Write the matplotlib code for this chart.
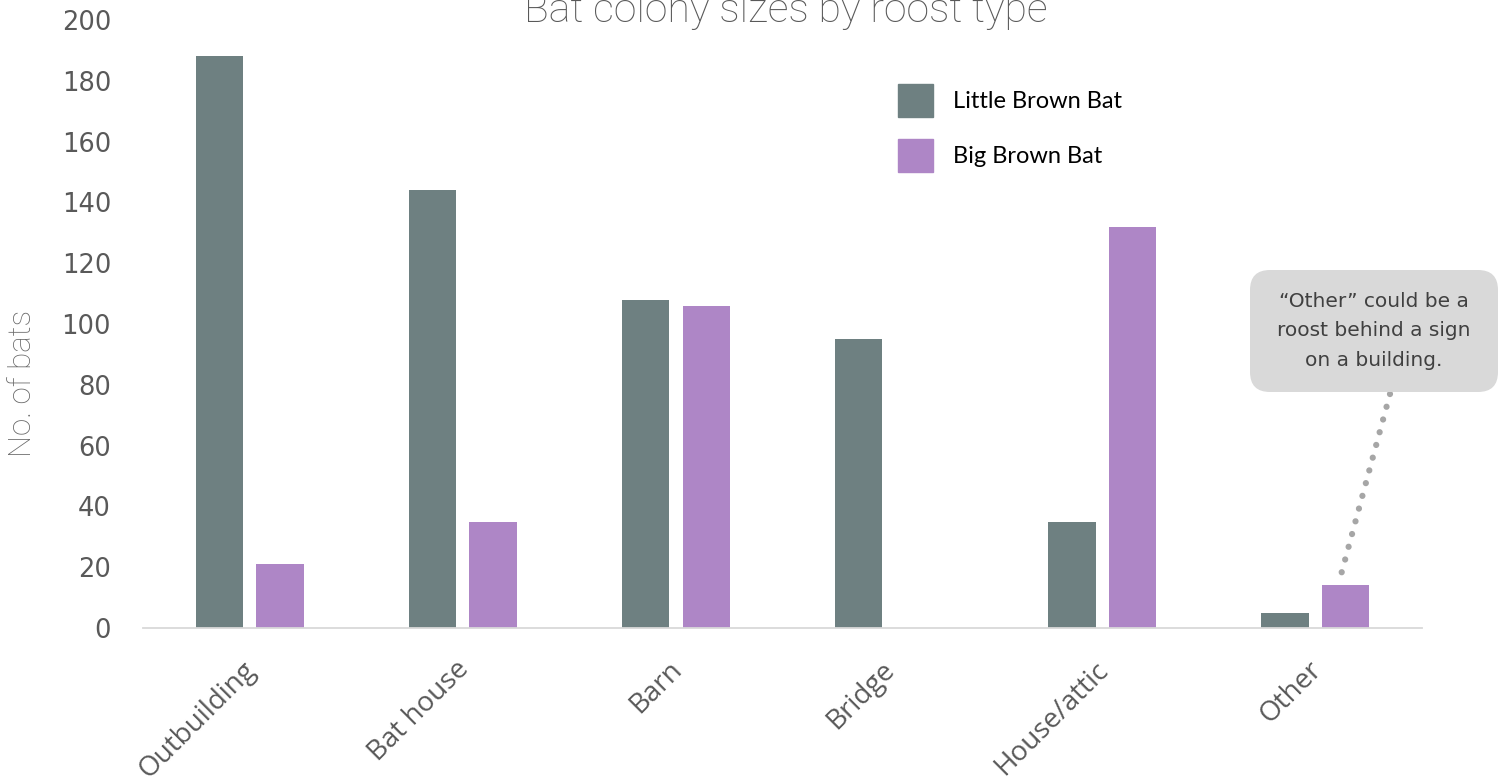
import matplotlib
matplotlib.use("Agg")
import matplotlib.pyplot as plt
import numpy as np
from matplotlib.patches import FancyBboxPatch, Patch
from matplotlib.transforms import IdentityTransform, ScaledTranslation

categories = ["Outbuilding", "Bat house", "Barn", "Bridge", "House/attic", "Other"]
little_brown = [188, 144, 108, 95, 35, 5]
big_brown = [21, 35, 106, 0, 132, 14]
series_names = ["Little Brown Bat", "Big Brown Bat"]
yticks = [0, 20, 40, 60, 80, 100, 120, 140, 160, 180, 200]

c_lbb = "#6E8081"
c_bbb = "#AE86C6"

W, H = 1506, 783
fig = plt.figure(figsize=(W / 100, H / 100), dpi=100)
ax = fig.add_axes([143 / W, 1 - 628 / H, (1422 - 143) / W, (628 - 20) / H])

x = np.arange(len(categories))
bw = 0.222
off = 0.142
ax.bar(x - off, little_brown, bw, color=c_lbb, label=series_names[0], zorder=2)
ax.bar(x + off, big_brown, bw, color=c_bbb, label=series_names[1], zorder=2)

ax.set_xlim(-0.5, len(categories) - 0.5)
ax.set_ylim(0, 200)
ax.set_yticks(yticks)
ax.set_yticklabels([str(v) for v in yticks], fontsize=18.5, color="#595959", family="DejaVu Sans")
ax.set_xticks(x)
ax.set_xticklabels(categories, rotation=45, ha="right", rotation_mode="anchor",
                   fontsize=20, color="#595959", family="Open Sans")
ax.tick_params(axis="both", length=0)
ax.tick_params(axis="y", pad=23)
ax.tick_params(axis="x", pad=20)
shift = ScaledTranslation(-0.08, 0, fig.dpi_scale_trans)
for lbl in ax.get_xticklabels():
    lbl.set_transform(lbl.get_transform() + shift)
for s in ["top", "right", "left"]:
    ax.spines[s].set_visible(False)
ax.spines["bottom"].set_color("#D9D9D9")
ax.spines["bottom"].set_linewidth(1.3)

fig.text(23 / W, 1 - 383 / H, "No. of bats", rotation=90, ha="center", va="center",
         fontsize=22.5, color="#6A6A6A", family="Roboto", weight="light")

fig.text(786 / W, 1 - 22 / H, "Bat colony sizes by roost type", ha="center", va="baseline",
         fontsize=29.5, color="#595959", family="Roboto", weight="light")

handles = [Patch(color=c_lbb), Patch(color=c_bbb)]
leg = fig.legend(handles, series_names, loc="upper left",
                 bbox_to_anchor=(898 / W, 1 - 84 / H), frameon=False,
                 handlelength=1.48, handleheight=1.77,
                 handletextpad=0.85, labelspacing=0.93, borderpad=0, borderaxespad=0,
                 prop={"family": "Lato", "size": 17})
for t in leg.get_texts():
    t.set_color("#000000")

box = FancyBboxPatch((1250, H - 392), 248, 122, boxstyle="round,pad=0,rounding_size=20",
                     transform=IdentityTransform(), facecolor="#D9D9D9", edgecolor="none")
fig.patches.append(box)
fig.text(1374 / W, 1 - 331 / H, "\u201cOther\u201d could be a\nroost behind a sign\non a building.",
         ha="center", va="center", fontsize=14.5, color="#404040", family="DejaVu Sans",
         linespacing=1.72)

ax.annotate("", xy=(x[-1] + off - 0.02, big_brown[-1] + 4), xycoords="data",
            xytext=(1390 / W, 1 - 394 / H), textcoords="figure fraction",
            arrowprops=dict(arrowstyle="-", color="#A6A6A6", linewidth=4.5,
                            linestyle=(0, (0.01, 2.1)), capstyle="round",
                            shrinkA=0, shrinkB=0))

fig.savefig("out.png", dpi=100)
